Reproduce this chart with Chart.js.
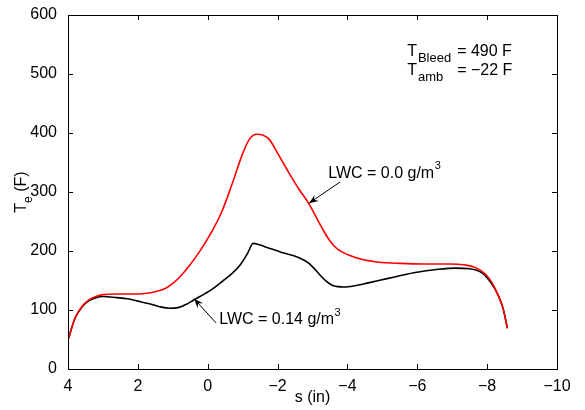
<!DOCTYPE html>
<html>
<head>
<meta charset="utf-8">
<script src="https://cdn.jsdelivr.net/npm/chart.js@4.4.1/dist/chart.umd.min.js"></script>
<style>
html,body{margin:0;padding:0;background:#fff;}
canvas{display:block;}
</style>
</head>
<body>
<canvas id="c" width="585" height="410"></canvas>
<script>
// ---- data ----
const sRed = [4.0,3.8,3.6,3.4,3.2,3.0,2.6,2.2,1.8,1.5,1.2,1.0,0.8,0.5,0.2,-0.1,-0.4,-0.7,-1.0,-1.2,-1.4,-1.55,-1.75,-2.0,-2.3,-2.6,-2.9,-3.1,-3.3,-3.5,-3.7,-4.0,-4.4,-4.9,-5.5,-6.2,-6.9,-7.4,-7.7,-7.95,-8.15,-8.3,-8.45,-8.58];
const tRed = [49,86,106,117,123,126,127,127,128,131,137,145,156,177,202,231,266,314,365,390,398,397,390,366,335,306,280,258,236,217,204,194,186,181,179,178,178,176,171,161,145,127,104,69];

const sBlack = [4.0,3.8,3.6,3.4,3.2,3.0,2.6,2.3,2.0,1.7,1.4,1.1,0.85,0.6,0.4,0.1,-0.1,-0.45,-0.7,-0.95,-1.15,-1.3,-1.5,-1.7,-2.1,-2.6,-2.9,-3.1,-3.35,-3.6,-3.9,-4.2,-4.6,-5.2,-5.9,-6.6,-7.1,-7.5,-7.85,-8.1,-8.3,-8.45,-8.58];
const tBlack = [49,86,105,116,121,123,121,119,115,111,106,103,104,110,117,127,134,150,162,178,197,213,210,206,198,189,179,167,151,141,139,141,146,154,163,169,171,170,163,147,127,104,69];

const xTicks = [4,2,0,-2,-4,-6,-8,-10];
const yTicks = [0,100,200,300,400,500,600];

const labelRed = 'LWC = 0.0 g/m';
const labelBlack = 'LWC = 0.14 g/m';
const bleedText = ['T','Bleed','= 490 F'];
const ambText = ['T','amb','= \u221222 F'];
const xTitle = 's (in)';
const yTitle = ['T','e',' (F)'];

// annotation anchors in data units
const noteRed = {x:-3.45, y:332, tailX:-3.79, tailY:317, headX:-2.90, headY:281};
const noteBlack = {x:-0.33, y:83, tailX:-0.24, tailY:78, headX:0.39, headY:119};
const noteTop = {x:-5.71, y1:530, y2:498};

const FONT = "'Liberation Sans', Arial, Helvetica, sans-serif";

function fmt(v){ return v < 0 ? '\u2212' + Math.abs(v) : String(v); }

function arrow(ctx, x1, y1, x2, y2){
  ctx.beginPath(); ctx.moveTo(x1,y1); ctx.lineTo(x2,y2); ctx.stroke();
  const a = Math.atan2(y2-y1, x2-x1), L = 10, W = 0.38;
  ctx.beginPath();
  ctx.moveTo(x2,y2);
  ctx.lineTo(x2 - L*Math.cos(a-W), y2 - L*Math.sin(a-W));
  ctx.lineTo(x2 - 0.6*L*Math.cos(a), y2 - 0.6*L*Math.sin(a));
  ctx.lineTo(x2 - L*Math.cos(a+W), y2 - L*Math.sin(a+W));
  ctx.closePath(); ctx.fill();
}

const deco = {
  id:'deco',
  afterDraw(chart){
    const ctx = chart.ctx, a = chart.chartArea, xs = chart.scales.x, ys = chart.scales.y;
    ctx.save();
    ctx.strokeStyle = '#000'; ctx.fillStyle = '#000'; ctx.lineWidth = 1;
    // box
    ctx.strokeRect(Math.round(a.left)+0.5, Math.round(a.top)+0.5, Math.round(a.right-a.left), Math.round(a.bottom-a.top));
    // inward ticks
    ctx.beginPath();
    xTicks.forEach(v=>{
      const px = Math.round(xs.getPixelForValue(v))+0.5;
      ctx.moveTo(px, a.bottom); ctx.lineTo(px, a.bottom-5);
      ctx.moveTo(px, a.top); ctx.lineTo(px, a.top+5);
    });
    yTicks.forEach(v=>{
      const py = Math.round(ys.getPixelForValue(v))+0.5;
      ctx.moveTo(a.left, py); ctx.lineTo(a.left+5, py);
      ctx.moveTo(a.right, py); ctx.lineTo(a.right-5, py);
    });
    ctx.stroke();

    // x title
    ctx.font = '16px ' + FONT; ctx.textAlign = 'center'; ctx.textBaseline = 'middle';
    ctx.fillText(xTitle, (a.left+a.right)/2, a.bottom + 29);

    // y title (rotated, with subscript)
    ctx.save();
    ctx.translate(22, (a.top+a.bottom)/2);
    ctx.rotate(-Math.PI/2);
    ctx.textAlign = 'left'; ctx.textBaseline = 'alphabetic';
    ctx.font = '16px ' + FONT; const w0 = ctx.measureText(yTitle[0]).width;
    ctx.font = '12px ' + FONT; const w1 = ctx.measureText(yTitle[1]).width;
    ctx.font = '16px ' + FONT; const w2 = ctx.measureText(yTitle[2]).width;
    let sx = -(w0+w1+w2)/2;
    ctx.font = '16px ' + FONT; ctx.fillText(yTitle[0], sx, 4); sx += w0;
    ctx.font = '12px ' + FONT; ctx.fillText(yTitle[1], sx, 10); sx += w1;
    ctx.font = '16px ' + FONT; ctx.fillText(yTitle[2], sx, 4);
    ctx.restore();

    // top-right block
    ctx.textAlign = 'left'; ctx.textBaseline = 'alphabetic';
    const tx = xs.getPixelForValue(noteTop.x);
    const by1 = ys.getPixelForValue(noteTop.y1), by2 = ys.getPixelForValue(noteTop.y2);
    ctx.font = '16px ' + FONT; const tw = ctx.measureText('T').width;
    ctx.font = '13px ' + FONT;
    const sw1 = ctx.measureText(bleedText[1]).width, sw2 = ctx.measureText(ambText[1]).width;
    const eqX = tx + tw + Math.max(sw1, sw2) + 7;
    [[bleedText,by1],[ambText,by2]].forEach(([t,by])=>{
      ctx.font = '16px ' + FONT; ctx.fillText(t[0], tx, by);
      ctx.font = '13px ' + FONT; ctx.fillText(t[1], tx+tw+1, by+6);
      ctx.font = '16px ' + FONT; ctx.fillText(t[2], eqX, by);
    });

    // LWC notes
    [[noteRed,labelRed],[noteBlack,labelBlack]].forEach(([n,lab])=>{
      const px = xs.getPixelForValue(n.x), py = ys.getPixelForValue(n.y);
      ctx.font = '16px ' + FONT; ctx.textBaseline = 'middle';
      ctx.fillText(lab, px, py);
      const lw = ctx.measureText(lab).width;
      ctx.font = '11px ' + FONT; ctx.fillText('3', px+lw+0.5, py-7);
      ctx.lineWidth = 1;
      arrow(ctx, xs.getPixelForValue(n.tailX), ys.getPixelForValue(n.tailY), xs.getPixelForValue(n.headX), ys.getPixelForValue(n.headY));
    });
    ctx.restore();
  }
};

new Chart(document.getElementById('c'), {
  type:'line',
  data:{
    datasets:[
      {data: sRed.map((s,i)=>({x:s,y:tRed[i]})), borderColor:'#ff0000', borderWidth:1.6, pointRadius:0, fill:false, cubicInterpolationMode:'monotone'},
      {data: sBlack.map((s,i)=>({x:s,y:tBlack[i]})), borderColor:'#000000', borderWidth:1.6, pointRadius:0, fill:false, cubicInterpolationMode:'monotone'}
    ]
  },
  options:{
    responsive:false, animation:false, events:[],
    layout:{padding:{top:15, right:28, left:0, bottom:0}},
    plugins:{legend:{display:false}, tooltip:{enabled:false}},
    scales:{
      x:{type:'linear', min:-10, max:4, reverse:true,
         grid:{display:false}, border:{display:false},
         afterFit(s){ s.height = 41; },
         afterBuildTicks(s){ s.ticks = xTicks.map(v=>({value:v})); },
         ticks:{color:'#000', font:{family:FONT, size:16}, padding:0, maxRotation:0, autoSkip:false, callback:v=>fmt(v)}},
      y:{type:'linear', min:0, max:600,
         grid:{display:false}, border:{display:false},
         afterFit(s){ s.width = 68; },
         afterBuildTicks(s){ s.ticks = yTicks.map(v=>({value:v})); },
         ticks:{color:'#000', font:{family:FONT, size:16}, padding:3, callback:v=>fmt(v)}}
    }
  },
  plugins:[deco]
});
</script>
</body>
</html>
